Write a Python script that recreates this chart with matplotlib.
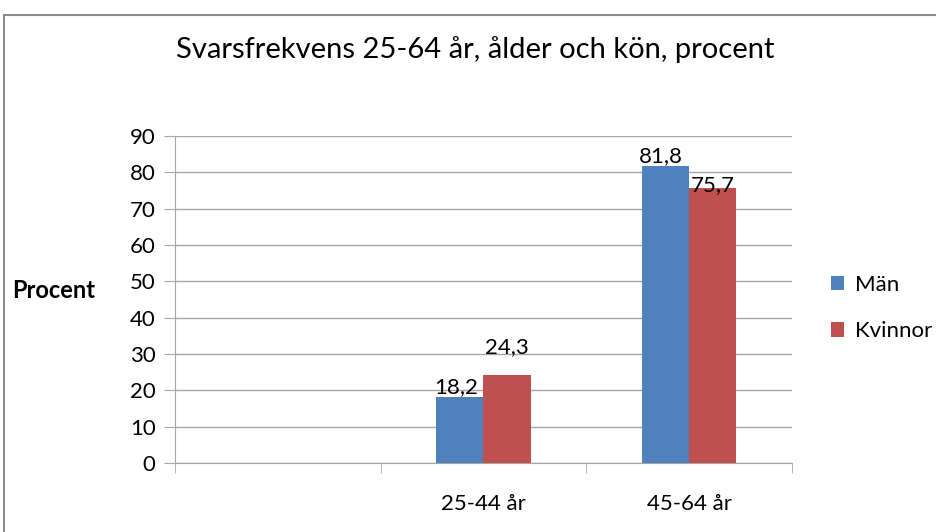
import numpy as np
import matplotlib.pyplot as plt
import matplotlib.patches as patches

plt.rcParams['font.family'] = ['Lato', 'DejaVu Sans']

categories = ["", "25-44 år", "45-64 år"]
man = [np.nan, 18.2, 81.8]
kvinnor = [np.nan, 24.3, 75.7]
# extra lift of the value labels, in points (the 24,3 label sits higher)
man_lift = [0, 0, 0]
kvinnor_lift = [0, 13, -5]

BLUE = "#4F81BD"
RED = "#C0504D"
GRID = "#A6A6A6"

fig = plt.figure(figsize=(9.37, 5.32), dpi=100)
ax = fig.add_axes([175/937, 1 - 463/532, 617/937, 327/532])

x = np.arange(len(categories))
w = 0.23
ax.bar(x - w/2, man, w, color=BLUE, label="Män", zorder=3)
ax.bar(x + w/2, kvinnor, w, color=RED, label="Kvinnor", zorder=3)

def fmt(v):
    return ("%.1f" % v).replace(".", ",")

for i in range(len(categories)):
    if not np.isnan(man[i]):
        ax.annotate(fmt(man[i]), (x[i] - w/2, man[i]), xytext=(-3, 0 + man_lift[i]),
                    textcoords="offset points", ha="center", va="bottom", fontsize=16)
    if not np.isnan(kvinnor[i]):
        ax.annotate(fmt(kvinnor[i]), (x[i] + w/2, kvinnor[i]), xytext=(0, 0 + kvinnor_lift[i]),
                    textcoords="offset points", ha="center", va="bottom", fontsize=16)

ax.set_xlim(-0.5, len(categories) - 0.5)
ax.set_ylim(0, 90)
ax.set_yticks(range(0, 91, 10))
ax.yaxis.grid(True, color=GRID, lw=1, zorder=0)
ax.set_axisbelow(True)

ax.set_xticks(x)
ax.set_xticklabels(categories, fontsize=16)
ax.set_xticks(np.arange(-0.5, len(categories), 1), minor=True)
ax.tick_params(axis="x", which="major", length=0, pad=22)
ax.tick_params(axis="x", which="minor", length=7, color=GRID)
ax.tick_params(axis="y", length=8, color=GRID, labelsize=16, pad=6)

for s in ["top", "right"]:
    ax.spines[s].set_visible(False)
for s in ["left", "bottom"]:
    ax.spines[s].set_color(GRID)

fig.text(475/937, 1 - 50/532, "Svarsfrekvens 25-64 år, ålder och kön, procent",
         ha="center", va="center", fontsize=21)
fig.text(12/937, 1 - 290/532, "Procent", ha="left", va="center",
         fontsize=17, fontweight="bold")

fig.legend(loc="center left", bbox_to_anchor=(822/937, 1 - 308/532), frameon=False,
           fontsize=16, handlelength=0.6, handleheight=0.6, labelspacing=1.2,
           handletextpad=0.5, borderaxespad=0)

fig.patches.append(patches.Rectangle((4/937, -0.1), 2, 1.1 - 15/532, transform=fig.transFigure,
                                     fill=False, edgecolor="#8C8C8C", lw=1.5))

fig.savefig("out.png", dpi=100)
